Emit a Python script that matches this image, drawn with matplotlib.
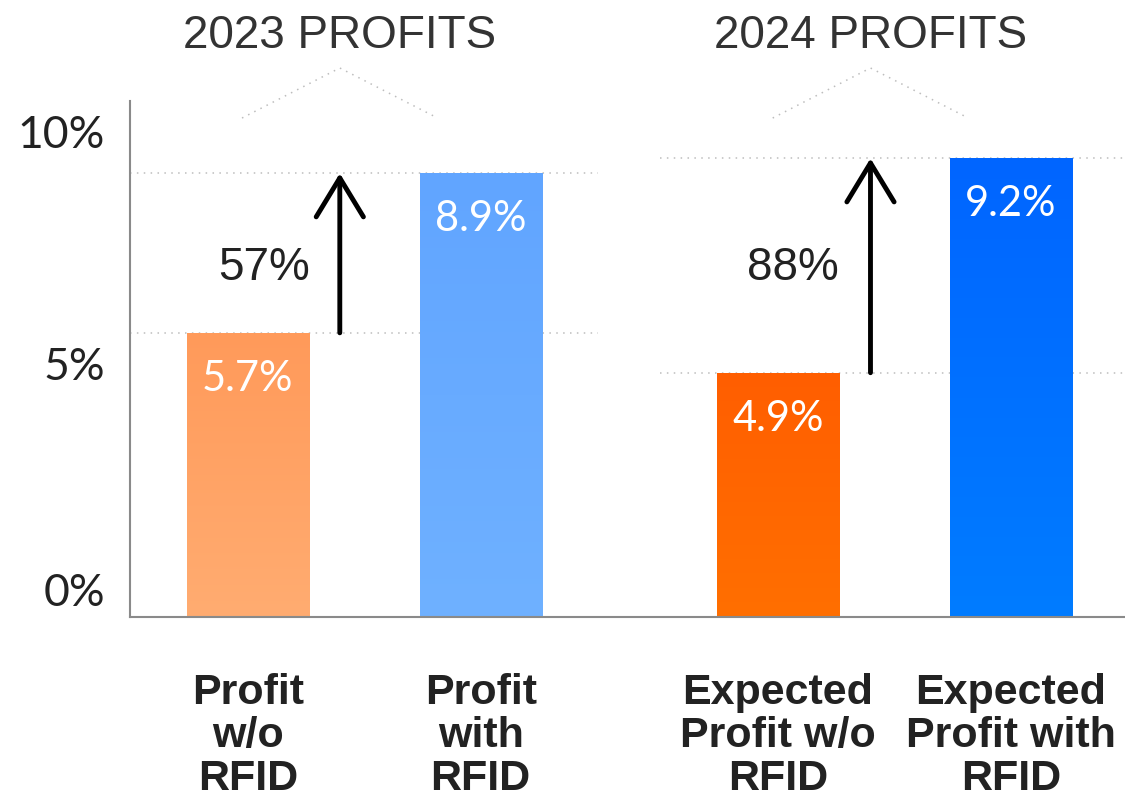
import matplotlib
matplotlib.use("Agg")
import matplotlib.pyplot as plt
import matplotlib.transforms as mtransforms
from matplotlib.colors import LinearSegmentedColormap
import numpy as np

# data
categories = ["Profit\nw/o\nRFID", "Profit\nwith\nRFID",
              "Expected\nProfit w/o\nRFID", "Expected\nProfit with\nRFID"]
values = [5.7, 8.9, 4.9, 9.2]
value_labels = ["5.7%", "8.9%", "4.9%", "9.2%"]
groups = ["2023 PROFITS", "2024 PROFITS"]
growth_labels = ["57%", "88%"]
yticks = [0, 5, 10]
ytick_labels = ["0%", "5%", "10%"]

# colours (top, bottom) for the slight vertical gradient
bar_colors = [("#FF9A5A", "#FFAC71"), ("#61A5FF", "#6FB1FF"),
              ("#FF5E00", "#FF6F00"), ("#0065FF", "#007CFF")]

xpos = [0, 1, 2.277, 3.277]
width = 0.524

fig = plt.figure(figsize=(11.25, 7.98), dpi=100)
ax = fig.add_axes([130 / 1125, 181 / 798, 995 / 1125, 516 / 798])

bars = ax.bar(xpos, values, width=width, color=[c[0] for c in bar_colors], zorder=2)
grad = np.linspace(0, 1, 256).reshape(-1, 1)
for b, (top, bot) in zip(bars, bar_colors):
    cmap = LinearSegmentedColormap.from_list("g", [bot, top])
    x0, y0 = b.get_x(), b.get_y()
    im = ax.imshow(grad, cmap=cmap, origin="lower", aspect="auto", zorder=2.5,
                   extent=[x0, x0 + b.get_width(), y0, y0 + b.get_height()])
    im.set_clip_path(b)
ax.set_xlim(-0.506, 3.767)
ax.set_ylim(0, 10.35)

# white value labels inside bars
for x, v, lab in zip(xpos, values, value_labels):
    ax.annotate(lab, (x, v), xytext=(0, -33), textcoords="offset points",
                ha="center", va="center", color="white", fontsize=30,
                family="Lato", zorder=4)

# dotted reference lines at bar tops
dot = dict(color="#BDBDBD", lw=1.1, linestyle=(0, (1, 3.5)), zorder=1)
left_end = 1.502
right_start = 1.768
for v in values[:2]:
    ax.plot([-0.506, left_end], [v, v], **dot)
for v in values[2:]:
    ax.plot([right_start, 3.767], [v, v], **dot)

# growth arrows
arrow_x = [0.395, 2.674]
for ax_x, lo, hi, lab, lx in zip(arrow_x, [values[0], values[2]], [values[1], values[3]],
                                  growth_labels, [0.07, 2.34]):
    ax.annotate("", xy=(ax_x, hi), xytext=(ax_x, lo),
                arrowprops=dict(arrowstyle="->,head_width=1.7,head_length=2.8",
                                lw=3.5, color="black", shrinkA=0, shrinkB=0),
                zorder=5)
    ax.text(lx, 7.0, lab, ha="center", va="center", fontsize=33,
            family="Liberation Sans", color="#222222")

# group headers with dotted chevrons
for cx, title in zip([0.395, 2.674], groups):
    ax.text(cx, 1.126, title, transform=ax.get_xaxis_transform(), ha="center",
            va="center", fontsize=33, family="Liberation Sans", color="#333333",
            clip_on=False)
    ax.plot([cx - 0.42, cx, cx + 0.42], [0.967, 1.064, 0.967], transform=ax.get_xaxis_transform(),
            color="#BDBDBD", lw=1.1, linestyle=(0, (1, 3.5)), clip_on=False)

# axes styling
for s in ["top", "right"]:
    ax.spines[s].set_visible(False)
for s in ["left", "bottom"]:
    ax.spines[s].set_color("#8A8A8A")
    ax.spines[s].set_linewidth(1.5)

ax.set_yticks(yticks)
ax.set_yticklabels(ytick_labels, fontsize=32, family="Lato", color="#222222")
ax.tick_params(axis="y", length=0, pad=18)
shifts = [27, 4, -13]
for lab, s in zip(ax.get_yticklabels(), shifts):
    lab.set_transform(lab.get_transform() + mtransforms.ScaledTranslation(0, s / 100, fig.dpi_scale_trans))

ax.set_xticks(xpos)
ax.set_xticklabels(categories, fontsize=31, family="Liberation Sans", fontweight="bold",
                   color="#222222", linespacing=1.11, multialignment="center")
ax.tick_params(axis="x", length=0, pad=40)

fig.savefig("out.png", dpi=100, facecolor="white")
